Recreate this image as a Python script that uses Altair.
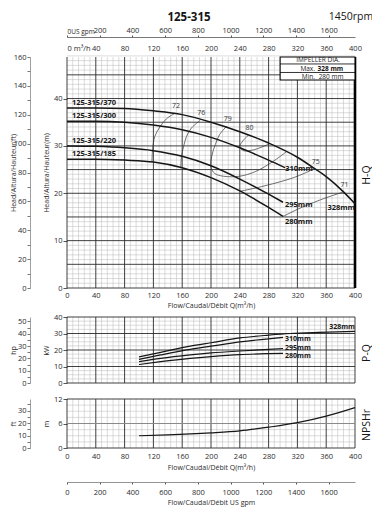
import altair as alt
import pandas as pd

FONT = "Open Sans"
INK = "#161616"
TXT = "#2b2b2b"
MINOR = "#b8b8b8"
MAJOR = "#2a2a2a"

# ---------------- axis tick values ----------------
flow_ticks = [0, 40, 80, 120, 160, 200, 240, 280, 320, 360, 400]
gpm_ticks = [0, 200, 400, 600, 800, 1000, 1200, 1400, 1600]
head_m_ticks = [0, 10, 20, 30, 40]
head_ft_ticks = [0, 10, 20, 30, 40, 50, 60, 70, 80, 90, 100, 110, 120, 130, 140, 150, 160]
power_kw_ticks = [0, 10, 20, 30, 40]
power_hp_ticks = [0, 5, 10, 15, 20, 25, 30, 35, 40, 45, 50]
npsh_m_ticks = [0, 6, 12]
npsh_ft_ticks = [0, 5, 10, 15, 20, 25, 30, 35]

# ---------------- H-Q curves (m) ----------------
impeller_names = ["328mm", "310mm", "295mm", "280mm"]
model_names = ["125-315/370", "125-315/300", "125-315/220", "125-315/185"]
q_328 = [0, 40, 80, 120, 160, 200, 240, 280, 320, 344, 360, 384, 400]
h_328 = [38.0, 38.0, 37.9, 37.4, 36.6, 35.0, 33.0, 30.6, 27.6, 25.2, 23.5, 20.3, 17.8]
q_310 = [0, 40, 80, 120, 160, 200, 240, 280, 303]
h_310 = [35.2, 35.2, 35.0, 34.4, 33.4, 31.8, 29.6, 27.0, 25.4]
q_295 = [0, 40, 80, 120, 160, 200, 240, 280, 300]
h_295 = [30.0, 29.9, 29.6, 29.0, 27.8, 25.8, 23.0, 19.8, 18.1]
q_280 = [0, 40, 80, 120, 160, 200, 240, 280, 300]
h_280 = [27.2, 27.2, 27.0, 26.6, 25.4, 23.3, 20.5, 17.0, 15.1]

# ---------------- iso-efficiency lines (%) ----------------
eff_labels = ["72", "76", "79", "80", "75", "71"]
eff_72_q = [150, 138, 129, 122, 119, 118]
eff_72_h = [36.9, 35.7, 34.0, 32.0, 29.5, 26.6]
eff_76_q = [185, 173, 166, 162, 159, 158]
eff_76_h = [35.4, 33.8, 32.0, 29.9, 27.8, 25.3]
eff_79_q = [222, 212, 206, 201, 200, 205, 217, 240, 262, 285, 305]
eff_79_h = [34.2, 32.4, 30.3, 27.8, 25.5, 24.2, 23.6, 23.6, 24.6, 26.6, 28.8]
eff_80_q = [252, 244, 240, 245, 260, 282]
eff_80_h = [32.3, 31.0, 29.9, 29.0, 29.2, 30.5]
eff_75_q = [344, 320, 300, 270, 240]
eff_75_h = [25.2, 23.6, 22.6, 21.4, 20.4]
eff_71_q = [384, 350, 320, 300]
eff_71_h = [20.3, 18.5, 16.6, 15.1]

# ---------------- P-Q curves (kW) ----------------
pq_328 = [100, 130, 171, 200, 240, 280, 310, 350, 400]
p_328 = [15.8, 18.6, 22.3, 24.4, 27.3, 29.0, 30.0, 30.7, 31.3]
pq_310 = [100, 130, 171, 200, 240, 280, 300]
p_310 = [14.3, 17.0, 20.4, 22.3, 24.9, 26.8, 27.6]
pq_295 = [100, 130, 171, 200, 240, 280, 300]
p_295 = [12.9, 14.9, 17.0, 18.2, 19.4, 20.4, 20.9]
pq_280 = [100, 130, 171, 200, 240, 280, 300]
p_280 = [11.2, 12.9, 14.9, 16.0, 17.2, 17.8, 18.0]

# ---------------- NPSHr (m) ----------------
npsh_q = [100, 140, 200, 240, 280, 320, 360, 400]
npsh_m = [3.0, 3.2, 3.7, 4.2, 5.1, 6.2, 7.8, 9.9]

# ---------------- impeller box ----------------
imp_max = "328 mm"
imp_min = "280 mm"


def series(qs, vs, name):
    return pd.DataFrame({"q": qs, "v": vs, "name": name, "i": list(range(len(qs)))})


hq_df = pd.concat([series(q_328, h_328, "328mm"), series(q_310, h_310, "310mm"),
                   series(q_295, h_295, "295mm"), series(q_280, h_280, "280mm")])
eff_df = pd.concat([series(eff_72_q, eff_72_h, "72"), series(eff_76_q, eff_76_h, "76"),
                    series(eff_79_q, eff_79_h, "79"), series(eff_80_q, eff_80_h, "80"),
                    series(eff_75_q, eff_75_h, "75"), series(eff_71_q, eff_71_h, "71")])
pq_df = pd.concat([series(pq_328, p_328, "328mm"), series(pq_310, p_310, "310mm"),
                   series(pq_295, p_295, "295mm"), series(pq_280, p_280, "280mm")])
npsh_df = series(npsh_q, npsh_m, "npsh")

M_TOP = 160 / 3.28084
W, HT = 288, 391
MAIN_RANGE = [231, 0]
P_RANGE = [326, 260]
N_RANGE = [391, 342]
FT_TITLE_X = -14

lab = dict(labelFont=FONT, labelFontSize=7.5, labelColor=TXT, titleFont=FONT,
           titleFontSize=7, titleColor=TXT, titleFontWeight="normal", grid=False,
           labelOverlap=False)
left0 = {"condition": {"test": "datum.value == 0", "value": "left"}, "value": "center"}
small0 = {"condition": {"test": "datum.value == 0", "value": 6.5}, "value": 7.5}

xq_scale = alt.Scale(domain=[0, 400], nice=False, zero=False)
xg_scale = alt.Scale(domain=[0, 400 * 4.40287], nice=False, zero=False)
ym_scale = alt.Scale(domain=[0, M_TOP], range=MAIN_RANGE, nice=False, zero=False)
yft_scale = alt.Scale(domain=[0, 160], range=MAIN_RANGE, nice=False, zero=False)
yp_scale = alt.Scale(domain=[0, 40], range=P_RANGE, nice=False, zero=False)
yhp_scale = alt.Scale(domain=[0, 40 * 1.34102], range=P_RANGE, nice=False, zero=False)
yn_scale = alt.Scale(domain=[0, 12], range=N_RANGE, nice=False, zero=False)
ynft_scale = alt.Scale(domain=[0, 12 * 3.28084], range=N_RANGE, nice=False, zero=False)

ax_x_main = alt.Axis(orient="bottom", offset=-160, values=flow_ticks,
                     title="Flow/Caudal/Débit Q(m³/h)", domain=False, ticks=False, tickSize=0,
                     labelPadding=3, titlePadding=3, labelFlush=False, **lab)
ax_y_main = alt.Axis(orient="left", values=head_m_ticks, title="Head/Altura/Hauteur(m)",
                     domain=False, tickSize=4, tickColor=MAJOR, tickWidth=0.8,
                     labelPadding=1, titlePadding=4, **lab)
ax_top_q = alt.Axis(orient="top", values=flow_ticks, title=None, domain=False, ticks=False,
                    tickSize=0, labelPadding=5, labelFlush=False, labelAlign=left0,
                    labelExpr="datum.value == 0 ? '0  m³/h' : datum.label", **lab)
ax_ft = alt.Axis(orient="left", offset=37, values=head_ft_ticks, title="Head/Altura/Hauteur(ft)",
                 labelExpr="datum.value % 20 == 0 ? datum.label : ''", domain=True,
                 domainColor="#888", domainWidth=0.8, tickSize=3, tickColor="#555",
                 tickWidth=0.8, labelPadding=1, titleX=FT_TITLE_X, **lab)
ax_kw = alt.Axis(orient="left", values=power_kw_ticks, title="kW", domain=False, tickSize=4,
                 tickColor=MAJOR, tickWidth=0.8, labelPadding=1, titlePadding=4, **lab)
ax_hp = alt.Axis(orient="left", offset=37, values=power_hp_ticks, title="hp",
                 labelExpr="datum.value % 10 == 0 ? datum.label : ''", domain=True,
                 domainColor="#888", domainWidth=0.8, tickSize=3, tickColor="#555",
                 tickWidth=0.8, labelPadding=1, titleX=FT_TITLE_X, **lab)
lab_g = dict(lab)
lab_g["labelFontSize"] = small0
ax_top_g = alt.Axis(orient="top", offset=20, values=gpm_ticks, title=None, domain=True,
                    domainColor="#555", domainWidth=0.8, tickSize=2, tickColor="#555",
                    labelPadding=1, labelFlush=False, labelAlign=left0, format="d",
                    labelExpr="datum.value == 0 ? '0US gpm' : datum.label", **lab_g)
ax_n_x = alt.Axis(orient="bottom", values=flow_ticks, title="Flow/Caudal/Débit Q(m³/h)",
                  domain=False, ticks=False, tickSize=0, labelPadding=4, titlePadding=4,
                  labelFlush=False, **lab)
ax_n_m = alt.Axis(orient="left", values=npsh_m_ticks, title="m", domain=False, tickSize=4,
                  tickColor=MAJOR, tickWidth=0.8, labelPadding=1, titlePadding=4, **lab)
ax_n_ft = alt.Axis(orient="left", offset=37, values=npsh_ft_ticks, title="ft",
                   labelExpr="datum.value % 10 == 0 ? datum.label : ''", domain=True,
                   domainColor="#888", domainWidth=0.8, tickSize=3, tickColor="#555",
                   tickWidth=0.8, labelPadding=1, titleX=FT_TITLE_X, **lab)
ax_bot_g = alt.Axis(orient="bottom", offset=34, values=gpm_ticks, format="d",
                    title="Flow/Caudal/Débit  US gpm", domain=True, domainColor="#777",
                    domainWidth=0.8, tickSize=2, tickColor="#555", labelPadding=4,
                    titlePadding=3, labelFlush=False, **lab)


def panel(xax, yscale, yax, ytop, hstep, hmajor):
    def X(f):
        return alt.X(f"{f}:Q", scale=xq_scale, axis=xax)

    def Y(f):
        return alt.Y(f"{f}:Q", scale=yscale, axis=yax)

    vx = list(range(0, 401, 8))
    nh = int(round(ytop / hstep))
    hy = [round(k * hstep, 4) for k in range(nh + 1)]
    if hy[-1] < ytop - 1e-6:
        hy.append(ytop)
    v_minor = pd.DataFrame({"q": [x for x in vx if x % 40], "lo": 0, "hi": ytop})
    v_major = pd.DataFrame({"q": [x for x in vx if x % 40 == 0], "lo": 0, "hi": ytop})
    is_major = [abs((y / hmajor) - round(y / hmajor)) < 1e-6 or y == ytop for y in hy]
    h_minor = pd.DataFrame({"v": [y for y, m in zip(hy, is_major) if not m], "lo": 0, "hi": 400})
    h_major = pd.DataFrame({"v": [y for y, m in zip(hy, is_major) if m], "lo": 0, "hi": 400})
    layers = [
        alt.Chart(v_minor).mark_rule(color=MINOR, strokeWidth=0.5).encode(x=X("q"), y=Y("lo"), y2="hi"),
        alt.Chart(h_minor).mark_rule(color=MINOR, strokeWidth=0.5).encode(y=Y("v"), x=X("lo"), x2="hi"),
        alt.Chart(v_major).mark_rule(color=MAJOR, strokeWidth=0.9).encode(x=X("q"), y=Y("lo"), y2="hi"),
        alt.Chart(h_major).mark_rule(color=MAJOR, strokeWidth=0.9).encode(y=Y("v"), x=X("lo"), x2="hi"),
    ]
    return X, Y, layers


# ---------------- main H-Q panel ----------------
MX, MY, main_layers = panel(ax_x_main, ym_scale, ax_y_main, M_TOP, 1, 5)
main_layers.append(
    alt.Chart(pd.DataFrame({"q": [400], "lo": [0], "hi": [M_TOP]}))
    .mark_rule(color="black", strokeWidth=2.6).encode(x=MX("q"), y=MY("lo"), y2="hi"))
main_layers.append(
    alt.Chart(eff_df).mark_line(color="#333", strokeWidth=0.7, interpolate="catmull-rom")
    .encode(x=MX("q"), y=MY("v"), detail="name:N", order="i:Q"))
main_layers.append(
    alt.Chart(hq_df).mark_line(color=INK, strokeWidth=1.5, interpolate="monotone")
    .encode(x=MX("q"), y=MY("v"), detail="name:N", order="i:Q"))
eff_first = eff_df[eff_df["i"] == 0]
main_layers.append(
    alt.Chart(eff_first).mark_text(font=FONT, fontSize=7, color="#333", dx=1, dy=-7)
    .encode(x=MX("q"), y=MY("v"), text="name:N"))
hq_first = hq_df[hq_df["i"] == 0].copy()
hq_first["label"] = model_names
main_layers.append(
    alt.Chart(hq_first).mark_text(font=FONT, fontSize=7.5, fontWeight="bold", color=INK,
                                  align="left", dx=5, dy=-5)
    .encode(x=MX("q"), y=MY("v"), text="label:N"))
hq_last = hq_df.groupby("name", sort=False).tail(1)
end_style = {"328mm": ("right", 0, 4), "310mm": ("left", 0, 1),
             "295mm": ("left", 2, 3), "280mm": ("left", 2, 6)}
for nm in impeller_names:
    al, ddx, ddy = end_style[nm]
    main_layers.append(
        alt.Chart(hq_last[hq_last["name"] == nm]).mark_text(
            font=FONT, fontSize=7.5, fontWeight="bold", color=INK, align=al, dx=ddx, dy=ddy)
        .encode(x=MX("q"), y=MY("v"), text="name:N"))

# impeller box (data coordinates)
box = pd.DataFrame({"x0": [296], "x1": [400], "y0": [43.9], "y1": [M_TOP]})
main_layers.append(
    alt.Chart(box).mark_rect(fill="white", stroke="black", strokeWidth=1.1)
    .encode(x=MX("x0"), x2="x1", y=MY("y0"), y2="y1"))
rows = pd.DataFrame({"v": [47.3, 45.5], "lo": [296, 296], "hi": [400, 400]})
main_layers.append(
    alt.Chart(rows).mark_rule(color="black", strokeWidth=0.8).encode(y=MY("v"), x=MX("lo"), x2="hi"))
box_txt = pd.DataFrame({"q": [348.6], "v": [48.03], "t": ["IMPELLER DIA."]})
main_layers.append(
    alt.Chart(box_txt).mark_text(font=FONT, fontSize=6.5, color="#222")
    .encode(x=MX("q"), y=MY("v"), text="t:N"))
box_l = pd.DataFrame({"q": [344.4, 344.4], "v": [46.34, 44.65], "t": ["Max.", "Min."]})
main_layers.append(
    alt.Chart(box_l).mark_text(font=FONT, fontSize=6.5, color="#222", align="right")
    .encode(x=MX("q"), y=MY("v"), text="t:N"))
box_r1 = pd.DataFrame({"q": [348.0], "v": [46.34], "t": [imp_max]})
main_layers.append(
    alt.Chart(box_r1).mark_text(font=FONT, fontSize=6.5, fontWeight="bold", color="#111", align="left")
    .encode(x=MX("q"), y=MY("v"), text="t:N"))
box_r2 = pd.DataFrame({"q": [349.5], "v": [44.65], "t": [imp_min]})
main_layers.append(
    alt.Chart(box_r2).mark_text(font=FONT, fontSize=6.5, color="#222", align="left")
    .encode(x=MX("q"), y=MY("v"), text="t:N"))
main = alt.layer(*main_layers)

dummy = pd.DataFrame({"q": [0], "v": [0]})
ft_layer = alt.Chart(dummy).mark_point(opacity=0).encode(
    x=alt.X("q:Q", scale=xq_scale, axis=ax_top_q),
    y=alt.Y("v:Q", scale=yft_scale, axis=ax_ft))

# ---------------- P-Q panel ----------------
PX, PY, p_layers = panel(None, yp_scale, ax_kw, 40, 2.5, 10)
p_layers.append(
    alt.Chart(pq_df).mark_line(color=INK, strokeWidth=1.2, interpolate="monotone")
    .encode(x=PX("q"), y=PY("v"), detail="name:N", order="i:Q"))
pq_last = pq_df.groupby("name", sort=False).tail(1)
p_style = {"328mm": ("right", 0, -4), "310mm": ("left", 2, 2),
           "295mm": ("left", 2, -1), "280mm": ("left", 2, 3)}
for nm in impeller_names:
    al, ddx, ddy = p_style[nm]
    p_layers.append(
        alt.Chart(pq_last[pq_last["name"] == nm]).mark_text(
            font=FONT, fontSize=7, fontWeight="bold", color=INK, align=al, dx=ddx, dy=ddy)
        .encode(x=PX("q"), y=PY("v"), text="name:N"))
ppanel = alt.layer(*p_layers)

hp_layer = alt.Chart(dummy).mark_point(opacity=0).encode(
    x=alt.X("q:Q", scale=xg_scale, axis=ax_top_g),
    y=alt.Y("v:Q", scale=yhp_scale, axis=ax_hp))

# ---------------- NPSH panel ----------------
NX, NY, n_layers = panel(ax_n_x, yn_scale, ax_n_m, 12, 1.5, 12)
n_layers.insert(4, alt.Chart(pd.DataFrame({"v": [6], "lo": [0], "hi": [400]}))
                .mark_rule(color="#8a8a8a", strokeWidth=1.0).encode(y=NY("v"), x=NX("lo"), x2="hi"))
n_layers.append(
    alt.Chart(npsh_df).mark_line(color=INK, strokeWidth=1.2, interpolate="monotone")
    .encode(x=NX("q"), y=NY("v"), order="i:Q"))
npanel = alt.layer(*n_layers)

nft_layer = alt.Chart(dummy).mark_point(opacity=0).encode(
    x=alt.X("q:Q", scale=xg_scale, axis=ax_bot_g),
    y=alt.Y("v:Q", scale=ynft_scale, axis=ax_n_ft))

# ---------------- annotations ----------------
one = pd.DataFrame({"a": [0]})
ann = [
    alt.Chart(one).mark_text(font=FONT, fontSize=11.5, fontWeight="bold", color=INK,
                             baseline="alphabetic")
    .encode(text=alt.value("125-315"), x=alt.value(122), y=alt.value(-36.5)),
    alt.Chart(one).mark_text(font=FONT, fontSize=10.5, color=INK, baseline="alphabetic")
    .encode(text=alt.value("1450rpm"), x=alt.value(284), y=alt.value(-37.5)),
    alt.Chart(one).mark_text(font=FONT, fontSize=10.5, color=INK, angle=270)
    .encode(text=alt.value("H-Q"), x=alt.value(300), y=alt.value(118)),
    alt.Chart(one).mark_text(font=FONT, fontSize=10.5, color=INK, angle=270)
    .encode(text=alt.value("P-Q"), x=alt.value(300), y=alt.value(296)),
    alt.Chart(one).mark_text(font=FONT, fontSize=10.5, color=INK, angle=270)
    .encode(text=alt.value("NPSHr"), x=alt.value(300), y=alt.value(368)),
]

chart = alt.layer(main, ft_layer, ppanel, hp_layer, npanel, nft_layer, *ann).resolve_scale(
    x="independent", y="independent"
).properties(
    width=W, height=HT,
    padding={"left": 59, "top": 49, "right": 17, "bottom": 59},
    autosize=alt.AutoSizeParams(type="none"),
).configure_view(stroke=None)

chart.save("out.html", embed_options={"renderer": "svg", "actions": False})
